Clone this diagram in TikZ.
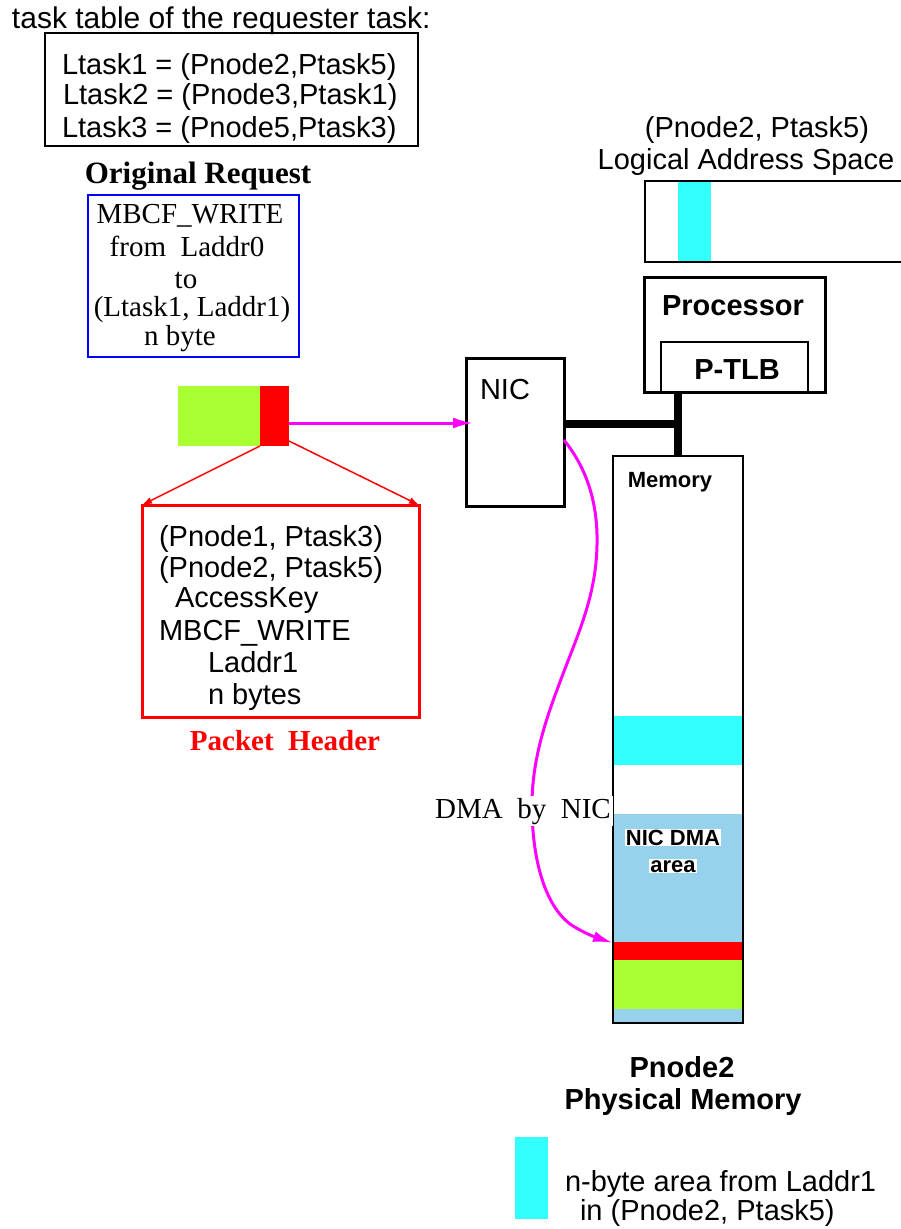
\documentclass[tikz,border=0pt]{standalone}
\usepackage{fontspec}
\setmainfont{Liberation Sans}
\newfontfamily\timesface{Liberation Serif}
\usetikzlibrary{arrows.meta}
\definecolor{areacyan}{RGB}{51,255,255}
\definecolor{pktgreen}{RGB}{170,255,51}
\definecolor{dmablue}{RGB}{150,210,236}
\definecolor{pktred}{RGB}{255,0,0}
\definecolor{flow}{RGB}{255,0,255}
\definecolor{reqblue}{RGB}{0,0,255}

\begin{document}
\begin{tikzpicture}[x=1pt,y=-1pt,
  every node/.style={inner sep=0pt,outer sep=0pt},
  sans/.style={font=\fontsize{29}{33}\selectfont,anchor=base},
  sansbold/.style={font=\fontsize{29}{33}\selectfont\bfseries,anchor=base},
  small/.style={font=\fontsize{22}{26}\selectfont\bfseries,anchor=base},
  serif/.style={font=\fontsize{29}{33}\selectfont\timesface,anchor=base},
  seriftitle/.style={font=\fontsize{31}{35}\selectfont\timesface\bfseries,anchor=base},
  thinbox/.style={draw,line width=1.5pt},
  thickbox/.style={draw,line width=3pt},
  bus/.style={line width=8pt},
  fan/.style={draw=pktred,line width=1.5pt,-{Latex[length=10pt,width=7pt]}},
  dma/.style={draw=flow,line width=3pt,-{Latex[length=20pt,width=11pt]}}]

\useasboundingbox (0,0) rectangle (901,1229);

% task table
\node[sans,font=\fontsize{30}{34}\selectfont,anchor=base west] (tbltitle) at (12,28) {task table of the requester task:};
\node[thinbox,minimum width=373pt,minimum height=113pt] (tbl) at (231.5,89.5) {};
\node[sans,anchor=base west] (lt1) at (62,74) {Ltask1 = (Pnode2,Ptask5)};
\node[sans,anchor=base west] (lt2) at (63,104) {Ltask2 = (Pnode3,Ptask1)};
\node[sans,anchor=base west] (lt3) at (62,137) {Ltask3 = (Pnode5,Ptask3)};

% original request
\node[seriftitle] (reqtitle) at (198,183) {Original Request};
\node[draw=reqblue,line width=1.5pt,minimum width=211pt,minimum height=162pt] (req) at (193.5,276) {};
\node[serif] (rq1) at (190,223) {MBCF\_WRITE};
\node[serif] (rq2) at (187,256) {from\ \ Laddr0};
\node[serif] (rq3) at (186,288) {to};
\node[serif] (rq4) at (192,316) {(Ltask1, Laddr1)};
\node[serif] (rq5) at (180,345) {n byte};

% packet
\node[fill=pktgreen,minimum width=82pt,minimum height=60pt] (pkbody) at (219,416) {};
\node[fill=pktred,minimum width=29pt,minimum height=60pt] (pkhead) at (274.5,416) {};

% packet header
\node[draw=pktred,line width=3pt,minimum width=277pt,minimum height=212pt] (hdr) at (280.5,611) {};
\node[sans,anchor=base west] (h1) at (159,546) {(Pnode1, Ptask3)};
\node[sans,anchor=base west] (h2) at (159,577) {(Pnode2, Ptask5)};
\node[sans,anchor=base west] (h3) at (175,607) {AccessKey};
\node[sans,anchor=base west] (h4) at (159,640) {MBCF\_WRITE};
\node[sans,anchor=base west] (h5) at (208,672) {Laddr1};
\node[sans,anchor=base west] (h6) at (208,704) {n bytes};
\node[serif,font=\fontsize{29}{33}\selectfont\timesface\bfseries,text=pktred] (hdrtitle) at (285,750) {Packet\ \ Header};

\draw[fan] (pkhead.south west) -- (hdr.north west);
\draw[fan] ([yshift=5pt]pkhead.south east) -- (hdr.north east);

% logical address space
\node[sans] (lasp1) at (757,137) {(Pnode2, Ptask5)};
\node[sans] (lasp2) at (746,169) {Logical Address Space};
\fill[areacyan] (678,181) rectangle (711,262);
\draw[line width=1.5pt] (901,181) -- (645,181) -- (645,262) -- (901,262);

% bus between NIC, processor and memory
\coordinate (busj) at (678,424);

% processor
\node[thickbox,minimum width=181pt,minimum height=115pt] (proc) at (734.5,334.5) {};
\node[sansbold] (proctext) at (733,315) {Processor};
\node[thinbox,minimum width=147pt,minimum height=50pt] (ptlb) at (734.5,367) {};
\node[sansbold] (ptlbtext) at (737,379) {P-TLB};

% NIC
\node[thickbox,minimum width=98pt,minimum height=148pt] (nic) at (515,432) {};
\node[sans,anchor=base west] (nictext) at (480,399) {NIC};

% physical memory
\node[minimum width=130pt,minimum height=567pt,fill=white] (mem) at (678,739.5) {};
\fill[areacyan] (613,716) rectangle (743,765);
\fill[dmablue] (613,814) rectangle (743,1023);
\fill[pktred] (613,942) rectangle (743,960);
\fill[pktgreen] (613,960) rectangle (743,1009);
\node[thinbox,minimum width=130pt,minimum height=567pt] (memframe) at (678,739.5) {};
\node[small] (memtext) at (670,487) {Memory};
\node[small,fill=white,inner sep=1pt] (dma1) at (673,845) {NIC DMA};
\node[small,fill=white,inner sep=1pt] (dma2) at (673,872) {area};

\draw[bus] (nic.east |- busj) -- ([xshift=4pt]busj);
\draw[bus] (busj |- proc.south) -- (busj |- mem.north);

% request transfer and DMA
\coordinate (pktout) at (289,423);
\coordinate (nicin) at (473,423);
\draw[dma] (pktout) -- (nicin);

\coordinate (dmaout) at (564,440);
\coordinate (dmain) at (613,943);
\draw[dma] (dmaout) .. controls (588,470) and (598,505) .. (597,545)
  .. controls (596,600) and (575,640) .. (557,690)
  .. controls (540,735) and (532,770) .. (532,805)
  .. controls (532,860) and (545,905) .. (570,924)
  .. controls (585,934) and (598,938) .. (dmain);
\node[serif,fill=white,inner sep=2pt] (dmalbl) at (523,818) {DMA\ \ by\ \ NIC};

\node[sansbold] (pn1) at (682,1077) {Pnode2};
\node[sansbold] (pn2) at (683,1109) {Physical Memory};

% legend
\fill[areacyan] (515,1137) rectangle (548,1219);
\node[sans,anchor=base west] (leg1) at (565,1191) {n-byte area from Laddr1};
\node[sans,anchor=base west] (leg2) at (580,1220) {in (Pnode2, Ptask5)};
\end{tikzpicture}
\end{document}
